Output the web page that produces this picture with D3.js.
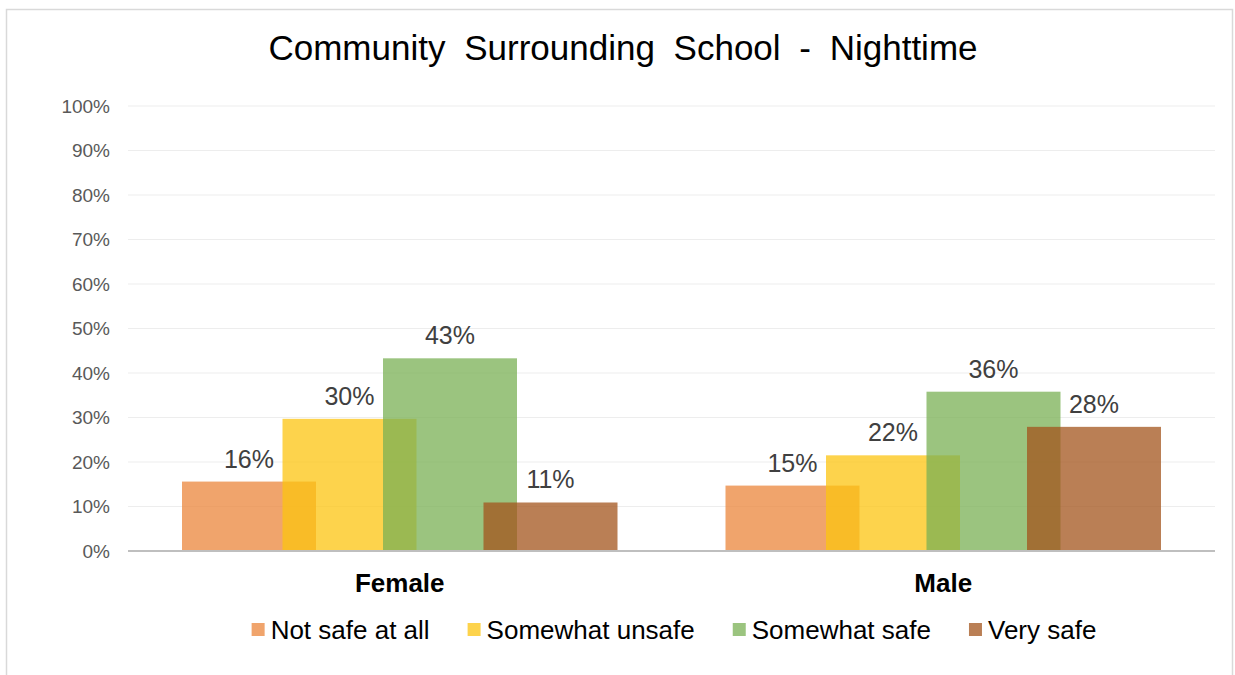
<!DOCTYPE html>
<html>
<head>
<meta charset="utf-8">
<script src="https://cdn.jsdelivr.net/npm/d3@7"></script>
<style>
  body { margin: 0; background: #fff; }
  text { font-family: "Liberation Sans", Arial, sans-serif; }
</style>
</head>
<body>
<div id="chart"></div>
<script>
// Données
const groups = ["Female", "Male"];
const series = ["Not safe at all", "Somewhat unsafe", "Somewhat safe", "Very safe"];
const female = [0.156, 0.297, 0.433, 0.109];
const male = [0.147, 0.215, 0.358, 0.279];
const yTicks = [0, 0.1, 0.2, 0.3, 0.4, 0.5, 0.6, 0.7, 0.8, 0.9, 1];
const title = "Community Surrounding School - Nighttime";

const W = 1235, H = 675;
const plot = {left: 128, right: 1215, top: 106, bottom: 551};

const color = d3.scaleOrdinal()
    .domain(series)
    .range(["#eb863b", "#fcc410", "#7ab054", "#a3541c"]);

const svg = d3.select("#chart").append("svg")
    .attr("width", W)
    .attr("height", H);

// Cadre
svg.append("rect")
    .attr("x", 6.5).attr("y", 9.5)
    .attr("width", 1226).attr("height", 680)
    .attr("fill", "none")
    .attr("stroke", "#d9d9d9")
    .attr("stroke-width", 1.5);

// Titre
svg.append("text")
    .attr("x", 623).attr("y", 60)
    .attr("text-anchor", "middle")
    .style("font-size", "35px")
    .style("word-spacing", "9px")
    .attr("fill", "#000")
    .text(title);

// Échelles
const x0 = d3.scaleBand().domain(groups).range([plot.left, plot.right]).padding(0);
const bw = x0.bandwidth();
const x1 = d3.scalePoint().domain(series).range([121, bw - 121]);
const barW = 134;
const y = d3.scaleLinear().domain([0, 1]).range([plot.bottom, plot.top]);

// Grille
svg.append("g")
    .selectAll("line")
    .data(yTicks.filter(d => d > 0))
    .enter().append("line")
    .attr("x1", plot.left).attr("x2", plot.right)
    .attr("y1", d => y(d)).attr("y2", d => y(d))
    .attr("stroke", "#ededed")
    .attr("stroke-width", 1);

// Axe Y
const yAxis = svg.append("g")
    .attr("transform", `translate(${plot.left},0)`)
    .call(d3.axisLeft(y).tickValues(yTicks).tickFormat(d3.format(".0%")).tickSize(0).tickPadding(18));
yAxis.select(".domain").remove();
yAxis.selectAll("text")
    .style("font-size", "19px")
    .style("font-family", "'Liberation Sans', Arial, sans-serif")
    .attr("fill", "#595959");

// Barres
const rows = groups.map((g, i) => ({group: g, values: i === 0 ? female : male}));
const gGroup = svg.selectAll(".grp")
    .data(rows)
    .enter().append("g")
    .attr("class", "grp")
    .attr("transform", d => `translate(${x0(d.group)},0)`);

gGroup.selectAll("rect")
    .data(d => d.values.map((v, j) => ({key: series[j], value: v})))
    .enter().append("rect")
    .attr("x", d => x1(d.key) - barW / 2)
    .attr("y", d => y(d.value))
    .attr("width", barW)
    .attr("height", d => y(0) - y(d.value))
    .attr("fill", d => color(d.key))
    .attr("fill-opacity", 0.75);

gGroup.selectAll(".lbl")
    .data(d => d.values.map((v, j) => ({key: series[j], value: v})))
    .enter().append("text")
    .attr("class", "lbl")
    .attr("x", d => x1(d.key))
    .attr("y", d => y(d.value) - 14)
    .attr("text-anchor", "middle")
    .style("font-size", "25px")
    .attr("fill", "#404040")
    .text(d => Math.round(d.value * 100) + "%");

// Ligne de base
svg.append("line")
    .attr("x1", plot.left).attr("x2", plot.right)
    .attr("y1", y(0)).attr("y2", y(0))
    .attr("stroke", "#bfbfbf")
    .attr("stroke-width", 2);

// Labels des catégories
svg.selectAll(".cat")
    .data(groups)
    .enter().append("text")
    .attr("class", "cat")
    .attr("x", d => x0(d) + bw / 2)
    .attr("y", 592)
    .attr("text-anchor", "middle")
    .style("font-size", "26px")
    .style("font-weight", "bold")
    .attr("fill", "#000")
    .text(d => d);

// Légende
const legend = svg.append("g");
const items = legend.selectAll(".leg")
    .data(series)
    .enter().append("g")
    .attr("class", "leg");
items.append("rect")
    .attr("width", 13).attr("height", 13)
    .attr("y", 623)
    .attr("fill", d => color(d))
    .attr("fill-opacity", 0.75);
items.append("text")
    .attr("x", 19).attr("y", 639)
    .style("font-size", "26px")
    .attr("fill", "#000")
    .text(d => d);
let cx = 0;
items.each(function() {
    const w = this.getBBox().width;
    d3.select(this).attr("transform", `translate(${cx},0)`);
    cx += w + 38;
});
const total = cx - 38;
legend.attr("transform", `translate(${674 - total / 2},0)`);
</script>
</body>
</html>
